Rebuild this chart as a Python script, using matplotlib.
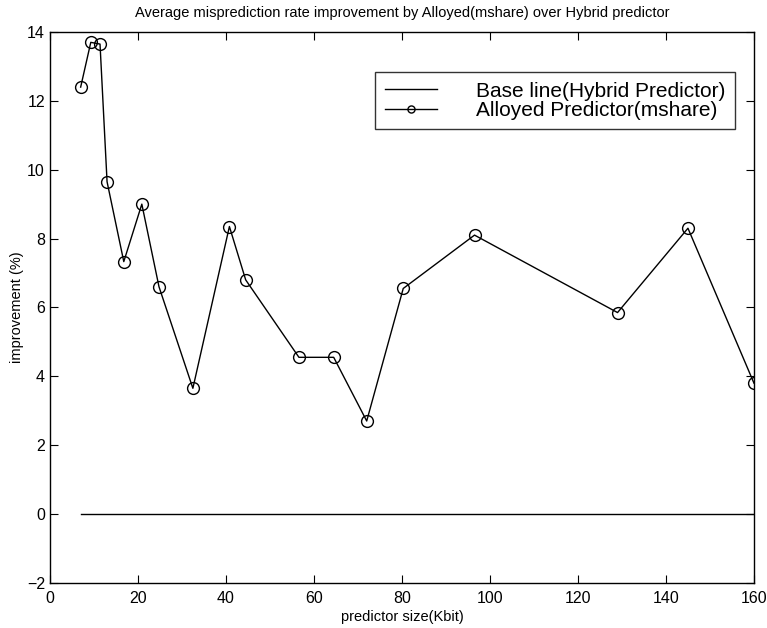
import matplotlib
matplotlib.use("Agg")
import matplotlib.pyplot as plt

plt.rcParams['font.family'] = ['Liberation Sans', 'DejaVu Sans']

size_kbit = [7, 9.3, 11.4, 13, 16.8, 20.9, 24.8, 32.5, 40.8, 44.5, 56.6, 64.5, 72, 80.3, 96.5, 129, 145, 160]
improvement = [12.4, 13.7, 13.65, 9.65, 7.33, 9.0, 6.6, 3.65, 8.35, 6.8, 4.55, 4.55, 2.7, 6.55, 8.1, 5.85, 8.3, 3.8]
base_x = [7, 160]
base_y = [0, 0]
x_ticks = [0, 20, 40, 60, 80, 100, 120, 140, 160]
y_ticks = [-2, 0, 2, 4, 6, 8, 10, 12, 14]

fig = plt.figure(figsize=(7.67, 6.28), dpi=100)
ax = fig.add_axes([0.065, 0.072, 0.918, 0.877])

ax.plot(base_x, base_y, color='black', linewidth=1.0, label='Base line(Hybrid Predictor)')
ax.plot(size_kbit, improvement, color='black', linewidth=1.0, marker='o', markersize=8.5,
        markerfacecolor='none', markeredgecolor='black', markeredgewidth=1.0,
        label='Alloyed Predictor(mshare)')

ax.set_xlim(0, 160)
ax.set_ylim(-2, 14)
ax.set_xticks(x_ticks)
ax.set_yticks(y_ticks)
ax.tick_params(direction='in', top=True, right=True, length=6, labelsize=11.5)
ax.tick_params(axis='x', pad=6)
for s in ax.spines.values():
    s.set_linewidth(1.0)

ax.set_title('Average misprediction rate improvement by Alloyed(mshare) over Hybrid predictor',
             fontsize=10.5, pad=11)
ax.set_xlabel('predictor size(Kbit)', fontsize=10.5, labelpad=3)
ax.set_ylabel('improvement (%)', fontsize=10.5, labelpad=2)

leg = ax.legend(loc='upper right', bbox_to_anchor=(0.973, 0.927), borderaxespad=0,
                fontsize=15, frameon=True,
                fancybox=False, edgecolor='black', handlelength=2.5, handletextpad=1.9,
                borderpad=0.45, labelspacing=0.02, markerscale=0.6)
leg.get_frame().set_linewidth(1.0)

fig.savefig('out.png', dpi=100)
